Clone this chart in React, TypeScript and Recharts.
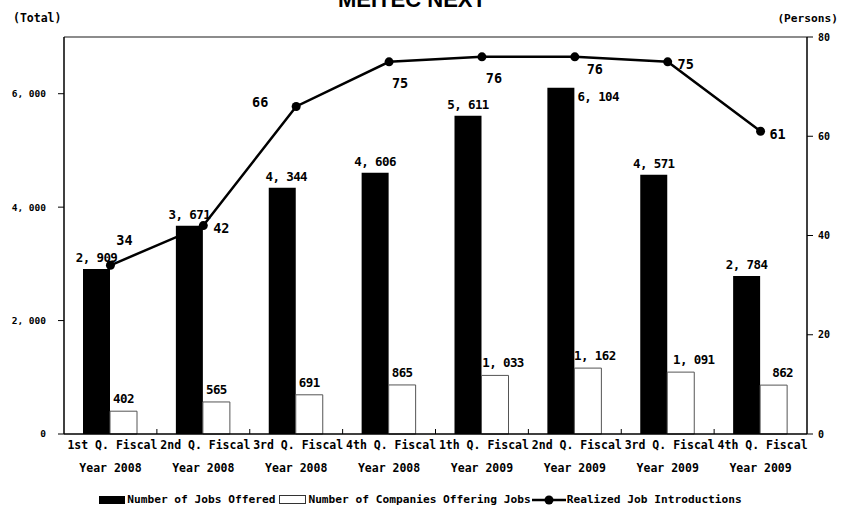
import React from 'react';
import { ComposedChart, Bar, Line, XAxis, YAxis, Legend, LabelList, ReferenceLine } from 'recharts';

const categories = [
  '1st Q. Fiscal Year 2008',
  '2nd Q. Fiscal Year 2008',
  '3rd Q. Fiscal Year 2008',
  '4th Q. Fiscal Year 2008',
  '1th Q. Fiscal Year 2009',
  '2nd Q. Fiscal Year 2009',
  '3rd Q. Fiscal Year 2009',
  '4th Q. Fiscal Year 2009',
];
const jobsOffered = [2909, 3671, 4344, 4606, 5611, 6104, 4571, 2784];
const companiesOffering = [402, 565, 691, 865, 1033, 1162, 1091, 862];
const realizedIntroductions = [34, 42, 66, 75, 76, 76, 75, 61];
const leftTicks = [0, 2000, 4000, 6000];
const rightTicks = [0, 20, 40, 60, 80];

const seriesNames = {
  jobs: 'Number of Jobs Offered',
  companies: 'Number of Companies Offering Jobs',
  realized: 'Realized Job Introductions',
};

const data = categories.map((category, i) => ({
  category,
  jobs: jobsOffered[i],
  companies: companiesOffering[i],
  realized: realizedIntroductions[i],
}));

const FONT = "'DejaVu Sans Mono', 'Liberation Mono', monospace";

const fmt = (v: number) => {
  const s = String(v);
  if (s.length <= 3) return s;
  return s.slice(0, s.length - 3) + ', ' + s.slice(s.length - 3);
};

const CatTick = (props: any) => {
  const { x, y, payload, index, width } = props;
  const parts = String(payload.value).split(' Year ');
  const half = payload && typeof payload.offset === 'number' && payload.offset > 0 ? payload.offset : width / categories.length / 2;
  const style = { fontFamily: FONT, fontWeight: 700, fontSize: 11.5, fill: '#000' } as any;
  return (
    <g>
      {index < categories.length - 1 ? (
        <line x1={x + half} x2={x + half} y1={y} y2={y - 5} stroke="#000" strokeWidth={1} />
      ) : null}
      <text x={x + 2} y={y + 15} textAnchor="middle" style={style}>{parts[0]}</text>
      <text x={x} y={y + 38} textAnchor="middle" style={style}>{'Year ' + parts[1]}</text>
    </g>
  );
};

const labelStyle = { fontFamily: FONT, fontWeight: 700, fontSize: 12.5, letterSpacing: -0.6, fill: '#000' } as any;
const lineLabelStyle = { fontFamily: FONT, fontWeight: 700, fontSize: 13.5, fill: '#000' } as any;

const jobsLabel = (props: any) => {
  const { x, y, width, value, index } = props;
  if (index === 5) {
    return (
      <text x={x + width + 3} y={y + 13} textAnchor="start" style={labelStyle}>{fmt(value)}</text>
    );
  }
  const shift = index === 2 ? 4 : 0;
  return (
    <text x={x + width / 2 + shift} y={y - 7} textAnchor="middle" style={labelStyle}>{fmt(value)}</text>
  );
};

const companyShift = [0, 0, 0, 0, 8, 7, 13, 9];
const companiesLabel = (props: any) => {
  const { x, y, width, value, index } = props;
  return (
    <text x={x + width / 2 + companyShift[index]} y={y - 8} textAnchor="middle" style={labelStyle}>{fmt(value)}</text>
  );
};

const lineDx = [14, 18, -36, 11, 12, 20, 18, 17];
const lineDy = [-20, 7, 1, 26, 26, 17, 7, 8];
const realizedLabel = (props: any) => {
  const { x, y, value, index } = props;
  return (
    <text x={x + lineDx[index]} y={y + lineDy[index]} textAnchor="middle" style={lineLabelStyle}>{value}</text>
  );
};

const legendText = { fontFamily: FONT, fontWeight: 700, fontSize: 11.2, color: '#000', whiteSpace: 'nowrap' } as any;

const LegendContent = () => (
  <div style={{ display: 'flex', justifyContent: 'center', alignItems: 'center', width: 841, paddingRight: 4 }}>
    <span style={{ display: 'inline-block', width: 26, height: 8, background: '#000', marginRight: 2 }} />
    <span style={legendText}>{seriesNames.jobs}</span>
    <span style={{ display: 'inline-block', width: 25, height: 7, background: '#fff', border: '1px solid #333', marginLeft: 4, marginRight: 2 }} />
    <span style={legendText}>{seriesNames.companies}</span>
    <svg width={36} height={12}>
      <line x1={1} y1={6} x2={35} y2={6} stroke="#000" strokeWidth={2.5} />
      <circle cx={18} cy={6} r={4.5} fill="#000" />
    </svg>
    <span style={legendText}>{seriesNames.realized}</span>
  </div>
);

export default function App() {
  return (
    <div style={{ position: 'absolute', left: 0, top: 0, width: 841, height: 511, background: '#fff' }}>
      <ComposedChart
        width={841}
        height={511}
        data={data}
        margin={{ top: 37, right: 4, bottom: 17, left: 14 }}
        barGap={0}
      >
        <XAxis
          xAxisId="cat"
          dataKey="category"
          height={60}
          tickLine={false}
          tickSize={0}
          tickMargin={0}
          interval={0}
          axisLine={{ stroke: '#000', strokeWidth: 1.5 }}
          tick={<CatTick />}
        />
        <YAxis
          yAxisId="left"
          orientation="left"
          width={50}
          domain={[0, 7000]}
          ticks={leftTicks}
          tickFormatter={fmt}
          tickSize={6}
          tickMargin={12}
          axisLine={{ stroke: '#000', strokeWidth: 1.5 }}
          tickLine={{ stroke: '#000' }}
          tick={{ fill: '#000', fontFamily: FONT, fontWeight: 700, fontSize: 9.5 } as any}
        />
        <YAxis
          yAxisId="right"
          orientation="right"
          width={30}
          domain={[0, 80]}
          ticks={rightTicks}
          tickSize={6}
          tickMargin={5}
          axisLine={{ stroke: '#000', strokeWidth: 1.5 }}
          tickLine={{ stroke: '#000' }}
          tick={{ fill: '#000', fontFamily: FONT, fontWeight: 700, fontSize: 10 } as any}
        />
        <ReferenceLine yAxisId="left" xAxisId="cat" y={7000} stroke="#666" strokeWidth={1.5} />
        <Bar xAxisId="cat" yAxisId="left" dataKey="jobs" name={seriesNames.jobs} fill="#000" barSize={27} isAnimationActive={false}>
          <LabelList dataKey="jobs" content={jobsLabel} />
        </Bar>
        <Bar xAxisId="cat" yAxisId="left" dataKey="companies" name={seriesNames.companies} fill="#fff" stroke="#555" strokeWidth={1} barSize={27} isAnimationActive={false}>
          <LabelList dataKey="companies" content={companiesLabel} />
        </Bar>
        <Line
          xAxisId="cat"
          yAxisId="right"
          dataKey="realized"
          name={seriesNames.realized}
          stroke="#000"
          strokeWidth={2.5}
          dot={{ r: 4.5, fill: '#000', stroke: '#000', strokeWidth: 0 }}
          activeDot={false}
          isAnimationActive={false}
        >
          <LabelList dataKey="realized" content={realizedLabel} />
        </Line>
        <Legend
          layout="vertical"
          verticalAlign="middle"
          align="center"
          wrapperStyle={{ position: 'absolute', top: 493, left: 0, width: 841, height: 16 }}
          content={<LegendContent />}
        />
      </ComposedChart>
      <svg width={841} height={511} style={{ position: 'absolute', left: 0, top: 0, pointerEvents: 'none' }}>
        <text x={412} y={7} textAnchor="middle" style={{ fontFamily: "'Liberation Sans', Arial, sans-serif", fontWeight: 700, fontSize: 22, fill: '#000' }}>MEITEC NEXT</text>
        <text x={13} y={22} textAnchor="start" style={{ fontFamily: FONT, fontWeight: 700, fontSize: 11.5, fill: '#000' }}>(Total)</text>
        <text x={838} y={22} textAnchor="end" style={{ fontFamily: FONT, fontWeight: 700, fontSize: 11.2, fill: '#000' }}>(Persons)</text>
      </svg>
    </div>
  );
}
